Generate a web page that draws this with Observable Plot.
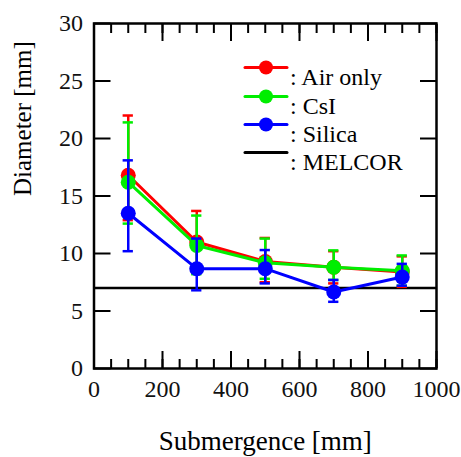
<!DOCTYPE html>
<html>
<head>
<meta charset="utf-8">
<script src="https://cdn.jsdelivr.net/npm/d3@7"></script>
<script src="https://cdn.jsdelivr.net/npm/@observablehq/plot@0.6"></script>
<style>
  html, body { margin: 0; padding: 0; background: white; }
  #chart svg text { font-family: "Liberation Serif", serif !important; }
</style>
</head>
<body>
<div id="chart"></div>
<script>
// ---- data ----
const submergence = [100, 300, 500, 700, 900];

const airMean = [16.8, 11.0, 9.3, 8.8, 8.4];
const airLow  = [12.9, 8.4, 7.5, 7.4, 7.1];
const airHigh = [22.0, 13.7, 11.35, 10.2, 9.75];

const csiMean = [16.2, 10.7, 9.2, 8.8, 8.5];
const csiLow  = [12.6, 8.2, 7.8, 7.7, 7.2];
const csiHigh = [21.4, 13.3, 11.3, 10.27, 9.83];

const silMean = [13.5, 8.68, 8.68, 6.65, 7.95];
const silLow  = [10.2, 6.8, 7.4, 5.8, 7.2];
const silHigh = [18.1, 11.3, 10.3, 7.7, 9.1];

const melcor = 7;

const seriesNames = ["Air only", "CsI", "Silica"];
const seriesColors = ["#ff0000", "#00ee00", "#0000ff"];
const legendLabels = [": Air only", ": CsI", ": Silica", ": MELCOR"];
const xTitle = "Submergence [mm]";
const yTitle = "Diameter [mm]";

const xTickLabels = [0, 200, 400, 600, 800, 1000];
const xMinorTicks = d3.range(0, 1001, 50);
const yTickLabels = [0, 5, 10, 15, 20, 25, 30];

// ---- build tables ----
const means = [airMean, csiMean, silMean];
const lows = [airLow, csiLow, silLow];
const highs = [airHigh, csiHigh, silHigh];
const series = seriesNames.map((name, s) => ({
  name,
  color: seriesColors[s],
  rows: submergence.map((x, i) => ({x, y: means[s][i], lo: lows[s][i], hi: highs[s][i]}))
}));

const font = "Liberation Serif";
const capHalf = 15; // half-width of error-bar caps, in x units

const marks = [];

// MELCOR reference line
marks.push(Plot.ruleY([melcor], {stroke: "black", strokeWidth: 2.5}));

// series: error bars, lines, dots
for (const s of series) {
  marks.push(Plot.ruleX(s.rows, {x: "x", y1: "lo", y2: "hi", stroke: s.color, strokeWidth: 2.5}));
  marks.push(Plot.ruleY(s.rows, {y: "hi", x1: d => d.x - capHalf, x2: d => d.x + capHalf, stroke: s.color, strokeWidth: 2.5}));
  marks.push(Plot.ruleY(s.rows, {y: "lo", x1: d => d.x - capHalf, x2: d => d.x + capHalf, stroke: s.color, strokeWidth: 2.5}));
  marks.push(Plot.line(s.rows, {x: "x", y: "y", stroke: s.color, strokeWidth: 3}));
  marks.push(Plot.dot(s.rows, {x: "x", y: "y", r: 7.5, fill: s.color, stroke: "none"}));
}

// frame
marks.push(Plot.frame({stroke: "black", strokeWidth: 2.5}));

// tick labels
marks.push(Plot.axisX({ticks: xTickLabels, tickFormat: d => String(d), tickSize: 0, tickPadding: 11, fontSize: 24, fontFamily: font, label: null}));
marks.push(Plot.axisY({ticks: yTickLabels, tickFormat: d => String(d), tickSize: 0, tickPadding: 11, fontSize: 24, fontFamily: font, label: null}));

// axis titles
marks.push(Plot.text([xTitle], {frameAnchor: "bottom", dy: 73, text: d => d, fontSize: 27, fontFamily: font, fill: "black", lineAnchor: "middle"}));
marks.push(Plot.text([yTitle], {frameAnchor: "left", dx: -71, rotate: -90, text: d => d, fontSize: 25, fontFamily: font, fill: "black", lineAnchor: "middle"}));

// inward ticks on all four sides
for (const anchor of ["bottom", "top"]) {
  marks.push(Plot.axisX({anchor, ticks: xMinorTicks, tickSize: -9, fill: "none", stroke: "black", strokeWidth: 2}));
  marks.push(Plot.axisX({anchor, ticks: xTickLabels, tickSize: -17, fill: "none", stroke: "black", strokeWidth: 2}));
}
for (const anchor of ["left", "right"]) {
  marks.push(Plot.axisY({anchor, ticks: yTickLabels, tickSize: -17, fill: "none", stroke: "black", strokeWidth: 2}));
}

// legend (inside plot, top-right)
const legendColors = [...seriesColors, "black"];
const rowDy = [44, 73, 101, 129];
legendLabels.forEach((lab, i) => {
  marks.push(Plot.vector([0], {frameAnchor: "top-left", dx: 172, dy: rowDy[i], length: 42, rotate: 90, anchor: "middle",
    stroke: legendColors[i], strokeWidth: 3,
    shape: {draw(ctx, l) { ctx.moveTo(0, 0); ctx.lineTo(0, -l); }}}));
  if (i < 3) {
    marks.push(Plot.dot([0], {frameAnchor: "top-left", dx: 172, dy: rowDy[i], r: 7, fill: legendColors[i], stroke: "none"}));
  }
  marks.push(Plot.text([lab], {frameAnchor: "top-left", dx: 196, dy: rowDy[i], text: d => d, textAnchor: "start",
    fontSize: 24, fontFamily: font, fill: "black"}));
});

const chart = Plot.plot({
  width: 461,
  height: 457,
  marginLeft: 93.5,
  marginRight: 25,
  marginTop: 23,
  marginBottom: 89,
  style: {fontFamily: font, fontSize: "24px", color: "#111", background: "white"},
  x: {domain: [0, 1000]},
  y: {domain: [0, 30]},
  marks
});
document.getElementById("chart").append(chart);
</script>
</body>
</html>
